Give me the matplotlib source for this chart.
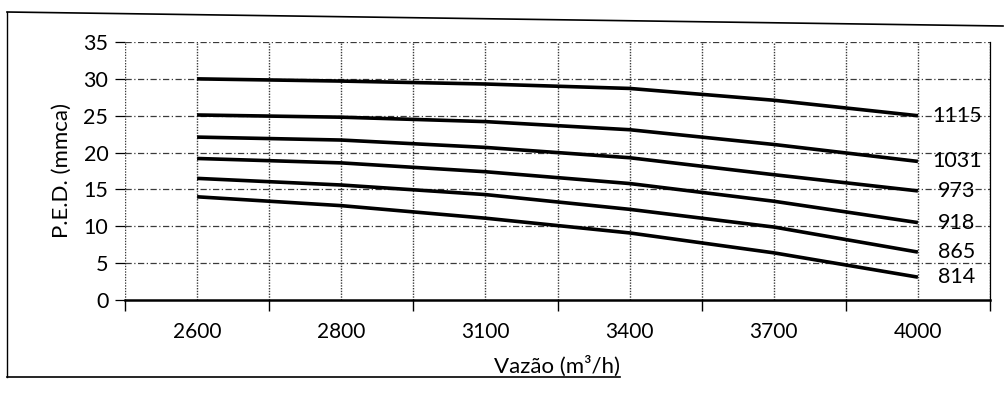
import numpy as np
import matplotlib.pyplot as plt
from matplotlib.lines import Line2D

# flow categories (x axis) and pressure curves per fan speed
vazao = ["2600", "2800", "3100", "3400", "3700", "4000"]
rotacoes = ["1115", "1031", "973", "918", "865", "814"]
ped_1115 = [30.0, 29.7, 29.3, 28.7, 27.1, 25.0]
ped_1031 = [25.1, 24.8, 24.2, 23.1, 21.1, 18.8]
ped_973 = [22.1, 21.7, 20.7, 19.3, 17.0, 14.8]
ped_918 = [19.2, 18.6, 17.4, 15.8, 13.4, 10.5]
ped_865 = [16.5, 15.6, 14.3, 12.3, 9.9, 6.5]
ped_814 = [14.0, 12.8, 11.1, 9.1, 6.4, 3.1]
curvas = [ped_1115, ped_1031, ped_973, ped_918, ped_865, ped_814]
y_ticks = [0, 5, 10, 15, 20, 25, 30, 35]

W, H = 1007, 415
plt.rcParams["font.family"] = ["Lato", "DejaVu Sans"]
fig = plt.figure(figsize=(W / 100, H / 100), dpi=100)
ax = fig.add_axes([125 / W, 1 - 300 / H, (990 - 125) / W, (300 - 42) / H])

x = np.arange(len(vazao))
for nome, ys in zip(rotacoes, curvas):
    ax.plot(x, ys, color="black", lw=2.6, solid_capstyle="butt")
    ax.text(x[-1] + 0.27, ys[-1], nome, ha="center", va="center", fontsize=15.5,
            color="black")

ax.set_xlim(-0.5, len(vazao) - 0.5)
ax.set_ylim(0, 35)
ax.set_xticks(x)
ax.set_xticklabels(vazao, fontsize=15)
ax.set_xticks(np.arange(-0.5, len(vazao), 1.0), minor=True)
ax.set_yticks(y_ticks)
ax.set_yticklabels([str(v) for v in y_ticks], fontsize=15.5)

# gridlines: dashed horizontals, dotted verticals every half category
for v in y_ticks[1:]:
    ax.axhline(v, color="#3a3a3a", lw=0.9, ls=(0, (5, 2, 1, 2)), zorder=1)
for gx in np.arange(-0.5, len(vazao), 0.5):
    ax.axvline(gx, color="#3a3a3a", lw=1.0, ls=(0, (1, 1)), zorder=1)

ax.tick_params(axis="x", which="major", length=0, pad=16)
ax.tick_params(axis="x", which="minor", length=8, width=1, direction="out")
ax.tick_params(axis="y", length=7, width=0.9, direction="out", pad=5)
ax.spines["top"].set_visible(False)
ax.spines["left"].set_visible(False)
ax.spines["right"].set_linewidth(0.9)
ax.spines["bottom"].set_linewidth(1.8)

ax.set_ylabel("P.E.D. (mmca)", fontsize=16, labelpad=8)
ax.set_xlabel("Vazão (m³/h)", fontsize=16, labelpad=10)

# outer chart border
fig.add_artist(Line2D([7 / W, 7 / W], [1 - 12 / H, 1 - 377 / H], color="black", lw=1))
fig.add_artist(Line2D([7 / W, 1003 / W], [1 - 12 / H, 1 - 26 / H], color="black", lw=1.2))
fig.add_artist(Line2D([7 / W, 620 / W], [1 - 377 / H, 1 - 377 / H], color="black", lw=1.2))

fig.savefig("out.png", dpi=100)
